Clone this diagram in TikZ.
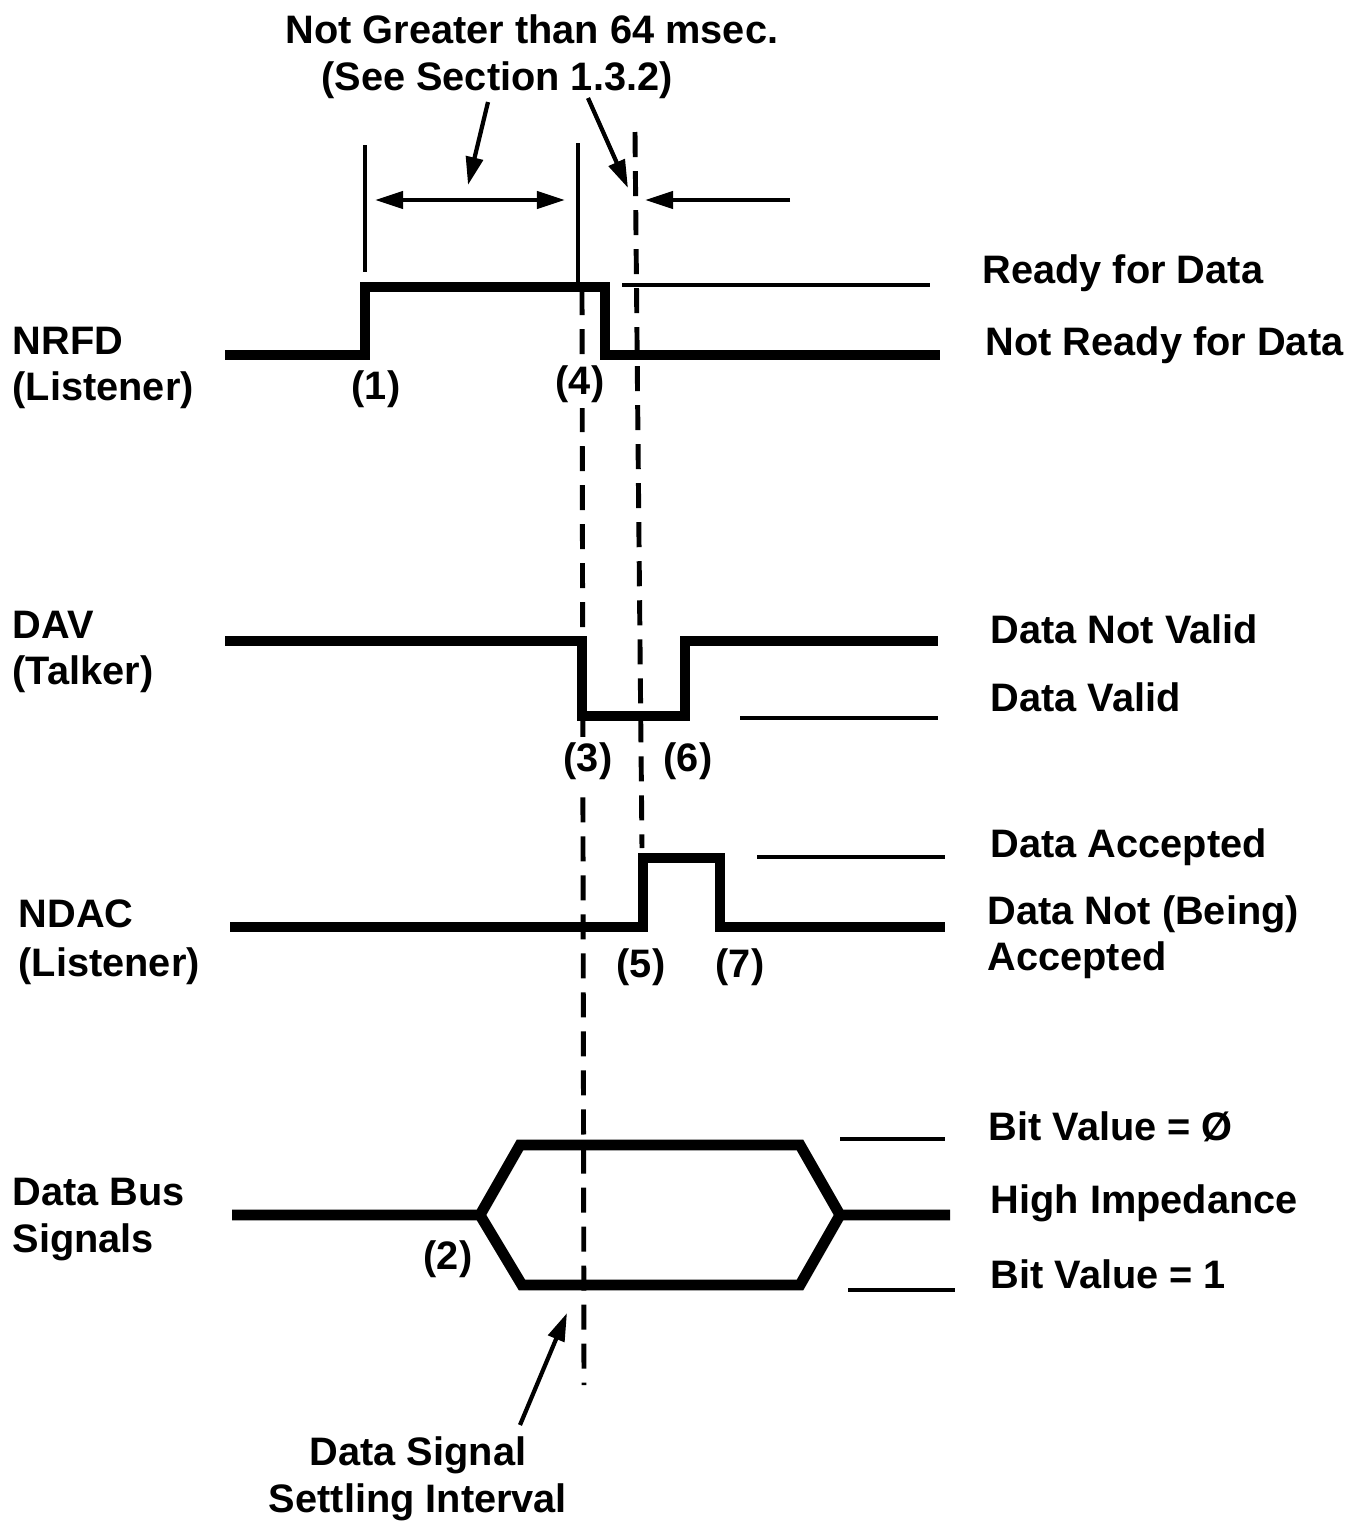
\documentclass[tikz,border=0pt]{standalone}
\usepackage{fontspec}
\setmainfont{Liberation Sans}
\usetikzlibrary{arrows.meta}

\begin{document}
\begin{tikzpicture}[x=0.01cm,y=-0.01cm,
  font=\fontsize{11.3}{13.3}\selectfont\bfseries,
  sig/.style={line width=3.1pt,line join=miter},
  lvl/.style={line width=0.9pt},
  edge/.style={line width=1.4pt},
  guide/.style={line width=1.4pt,dash pattern=on 0.25cm off 0.14cm},
  ptr/.style={line width=1.2pt,-{Triangle[length=0.28cm,width=0.17cm]}},
  lbl/.style={anchor=base west,inner sep=0pt},
  note/.style={anchor=base,inner sep=0pt},
  num/.style={anchor=base,inner sep=1.5pt,fill=white}]
  \useasboundingbox (0,0) rectangle (1359,1523);

  % top note
  \node[note] (note1) at (532,43) {Not Greater than 64 msec.};
  \node[note] (note2) at (497,90) {(See Section 1.3.2)};
  \coordinate (p1s) at (488,102); \coordinate (p1e) at (468,185);
  \coordinate (p2s) at (588,98);  \coordinate (p2e) at (628,188);
  \draw[ptr] (p1s) -- (p1e);
  \draw[ptr] (p2s) -- (p2e);

  % interval markers
  \draw[edge] (365,145) -- (365,272);
  \draw[edge] (578,143) -- (578,288);
  \coordinate (aL) at (375,200); \coordinate (aR) at (565,200);
  \coordinate (bS) at (790,200); \coordinate (bE) at (645,200);
  \draw[line width=1.2pt,{Triangle[length=0.28cm,width=0.17cm]}-{Triangle[length=0.28cm,width=0.17cm]}] (aL) -- (aR);
  \draw[ptr] (bS) -- (bE);
  \draw[guide] (582,290) -- (584,1385);
  \draw[guide] (635,132) -- (642,848);

  % NRFD
  \draw[sig] (225,355) -- (365,355) -- (365,287) -- (605,287) -- (605,355) -- (940,355);
  \draw[lvl] (622,285) -- (930,285);
  \node[lbl] (nrfd) at (12,354) {NRFD};
  \node[lbl] (nrfd2) at (12,400) {(Listener)};
  \node[num] (n1) at (376,399) {(1)};
  \node[num] (n4) at (580,394) {(4)};
  \node[lbl] (rfd) at (982,283) {Ready for Data};
  \node[lbl] (nrd) at (985,355) {Not Ready for Data};

  % DAV
  \draw[sig] (225,641) -- (582,641) -- (582,716) -- (685,716) -- (685,641) -- (938,641);
  \draw[lvl] (740,718) -- (938,718);
  \node[lbl] (dav) at (12,638) {DAV};
  \node[lbl] (dav2) at (12,684) {(Talker)};
  \node[num] (n3) at (588,771) {(3)};
  \node[num] (n6) at (688,771) {(6)};
  \node[lbl] (dnv) at (990,643) {Data Not Valid};
  \node[lbl] (dv) at (990,711) {Data Valid};

  % NDAC
  \draw[sig] (230,927) -- (643,927) -- (643,858) -- (720,858) -- (720,927) -- (945,927);
  \draw[lvl] (757,857) -- (945,857);
  \node[lbl] (ndac) at (18,927) {NDAC};
  \node[lbl] (ndac2) at (18,976) {(Listener)};
  \node[num] (n5) at (641,977) {(5)};
  \node[num] (n7) at (740,977) {(7)};
  \node[lbl] (da) at (990,857) {Data Accepted};
  \node[lbl] (dna) at (987,924) {Data Not (Being)};
  \node[lbl] (dna2) at (987,970) {Accepted};

  % data bus
  \draw[sig] (232,1215) -- (480,1215) -- (520,1145) -- (800,1145) -- (840,1215) -- (950,1215);
  \draw[sig] (480,1215) -- (522,1285) -- (800,1285) -- (840,1215);
  \draw[lvl] (840,1139) -- (945,1139);
  \draw[lvl] (848,1290) -- (955,1290);
  \node[lbl] (bus) at (12,1205) {Data Bus};
  \node[lbl] (bus2) at (12,1252) {Signals};
  \node[num] (n2) at (448,1269) {(2)};
  \node[lbl] (b0) at (988,1140) {Bit Value = Ø};
  \node[lbl] (hz) at (990,1213) {High Impedance};
  \node[lbl] (b1) at (990,1288) {Bit Value = 1};

  % settling note
  \node[note] (set1) at (418,1465) {Data Signal};
  \node[note] (set2) at (418,1512) {Settling Interval};
  \coordinate (p3s) at (520,1425); \coordinate (p3e) at (567,1313);
  \draw[ptr] (p3s) -- (p3e);
\end{tikzpicture}
\end{document}
